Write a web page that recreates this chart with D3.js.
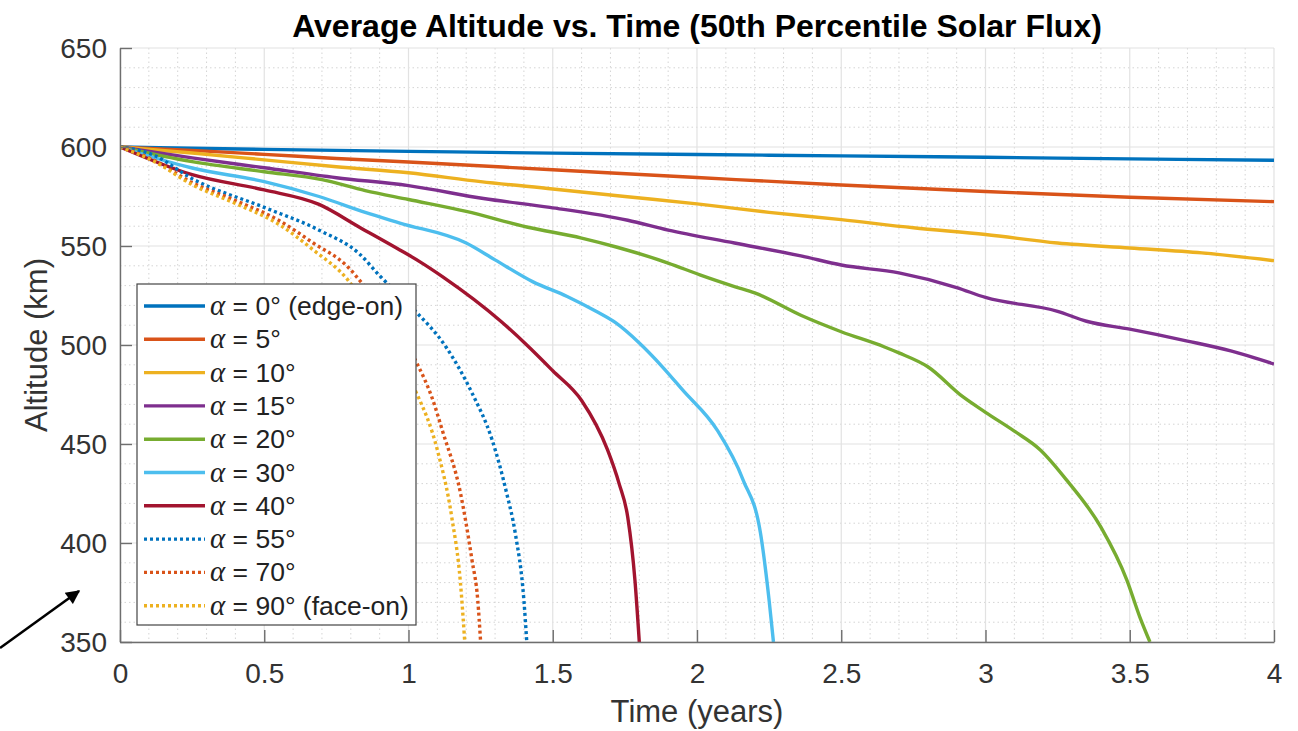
<!DOCTYPE html>
<html><head><meta charset="utf-8">
<script src="https://cdn.jsdelivr.net/npm/d3@7"></script>
<style>body{margin:0;background:#fff}svg{display:block}</style>
</head><body><svg id="c" width="1298" height="731"></svg>
<script>
// ---- data ----
const angles = [0, 5, 10, 15, 20, 30, 40, 55, 70, 90];
const labelSuffix = [" (edge-on)", "", "", "", "", "", "", "", "", " (face-on)"];
const t0  = [0,0.5,1,1.5,2,2.5,3,3.5,4];
const h0  = [600,598.8,597.8,596.9,596.2,595.5,594.8,594,593.3];
const t5  = [0,0.25,0.5,0.75,1,1.5,2,2.5,3,3.5,4];
const h5  = [600,598.3,596.3,594.2,592.4,588.5,584.6,580.8,577.5,574.6,572.4];
const t10 = [0,0.25,0.5,0.75,1,1.25,1.5,1.75,2,2.25,2.5,2.75,3,3.25,3.5,3.75,4];
const h10 = [600,597,593.5,590,587,582.5,578.8,575,571.3,567,563.3,559.2,555.8,551.5,549,546.5,542.6];
const t15 = [0,0.25,0.5,0.75,1,1.26,1.49,1.76,1.9,2.13,2.36,2.5,2.7,2.9,3.0,3.25,3.35,3.5,3.7,3.85,4];
const h15 = [600,594.5,589.5,584.5,580.5,574,569.5,563,558,551.5,545,540.4,536.4,529,524,517,512,508,502,497,490.4];
const t20 = [0,0.25,0.5,0.7,0.85,1.0,1.2,1.41,1.6,1.72,1.9,2.01,2.13,2.2,2.36,2.5,2.65,2.7,2.8,2.92,3.0,3.1,3.19,3.28,3.4,3.49,3.535,3.57];
const h20 = [600,592.6,587.5,583.5,578,573.5,567.5,559.6,554,549.5,541.4,535.4,529.5,526.3,515,506.7,499,496,489,474,466,456.5,447,432,408,381.3,362.6,350];
const t30 = [0,0.25,0.5,0.69,0.85,0.97,1.2,1.3,1.43,1.55,1.65,1.72,1.8,1.88,1.95,2.07,2.16,2.22,2.25,2.265];
const h30 = [600,589.4,582.5,575,567,561.6,551.5,543,532,524.5,517,511,501,489,477.3,457,431.8,405,371,350];
const t40 = [0,0.25,0.5,0.69,0.83,0.97,1.04,1.12,1.32,1.41,1.5,1.6,1.69,1.73,1.76,1.785,1.80];
const h40 = [600,586,578.3,571,559.5,548,542,534.3,512,500,487,472,447,430,413,381,350];
const t55 = [0,0.115,0.25,0.5,0.69,0.83,0.9,1.02,1.13,1.22,1.29,1.34,1.37,1.40,1.41];
const h55 = [600,596,584,569.5,558,546,535,517.7,499,475.8,452,425.3,405,371,350];
const t70 = [0,0.115,0.25,0.4,0.55,0.67,0.79,0.84,0.95,1.03,1.08,1.12,1.18,1.22,1.24,1.25];
const h70 = [600,593.5,582,573,563,551.5,539.4,531,510,490.5,474,455.6,425.3,391.4,371.2,350];
const t90 = [0,0.115,0.25,0.4,0.55,0.67,0.79,0.9,0.97,1.03,1.10,1.15,1.18,1.195];
const h90 = [600,593,581,571.5,561,548,532.8,508,490,475,447,413,380,350];
const xTicks = [0,0.5,1,1.5,2,2.5,3,3.5,4];
const yTicks = [350,400,450,500,550,600,650];

const seriesT = [t0,t5,t10,t15,t20,t30,t40,t55,t70,t90];
const seriesH = [h0,h5,h10,h15,h20,h30,h40,h55,h70,h90];
const colors = ["#0072BD","#D95319","#EDB120","#7E2F8E","#77AC30","#4DBEEE","#A2142F","#0072BD","#D95319","#EDB120"];
const dotted = [false,false,false,false,false,false,false,true,true,true];

// ---- layout ----
const L=120,R=1274,T=48,B=642;
const svg = d3.select("#c");
const x = d3.scaleLinear().domain([0,4]).range([L,R]);
const y = d3.scaleLinear().domain([350,650]).range([B,T]);
const sans = "'Liberation Sans', Arial, Helvetica, sans-serif";
const textCol = "#333333";

// minor grid
const g = svg.append("g");
const minorX = d3.range(0,4.0001,0.1).filter(v => Math.abs(v*2-Math.round(v*2))>1e-6);
const minorY = d3.range(350,650.1,10).filter(v => v%50!==0);
g.selectAll(".mx").data(minorX).join("line")
  .attr("x1",d=>x(d)).attr("x2",d=>x(d)).attr("y1",T).attr("y2",B)
  .attr("stroke","#d4d4d4").attr("stroke-width",1).attr("stroke-dasharray","1.5,3");
g.selectAll(".my").data(minorY).join("line")
  .attr("y1",d=>y(d)).attr("y2",d=>y(d)).attr("x1",L).attr("x2",R)
  .attr("stroke","#d4d4d4").attr("stroke-width",1).attr("stroke-dasharray","1.5,3");
// major grid
g.selectAll(".gx").data(xTicks).join("line")
  .attr("x1",d=>x(d)).attr("x2",d=>x(d)).attr("y1",T).attr("y2",B)
  .attr("stroke","#e2e2e2").attr("stroke-width",1.2);
g.selectAll(".gy").data(yTicks).join("line")
  .attr("y1",d=>y(d)).attr("y2",d=>y(d)).attr("x1",L).attr("x2",R)
  .attr("stroke","#e2e2e2").attr("stroke-width",1.2);

// curves
svg.append("clipPath").attr("id","clip").append("rect")
  .attr("x",L).attr("y",T).attr("width",R-L).attr("height",B-T);
const line = d3.line().x(d=>x(d[0])).y(d=>y(d[1])).curve(d3.curveMonotoneX);
const cg = svg.append("g").attr("clip-path","url(#clip)");
seriesT.forEach((ts,i)=>{
  const pts = ts.map((t,j)=>[t, seriesH[i][j]]);
  cg.append("path").attr("d",line(pts)).attr("fill","none")
    .attr("stroke",colors[i]).attr("stroke-width",3.4)
    .attr("stroke-dasharray", dotted[i] ? "3,3" : null)
    .attr("stroke-linejoin","round");
});

// axes
const axCol = "#6e6e6e";
const xa = svg.append("g").attr("transform",`translate(0,${B})`)
  .call(d3.axisBottom(x).tickValues(xTicks).tickSizeInner(-12).tickSizeOuter(0).tickPadding(22).tickFormat(d3.format("")));
const ya = svg.append("g").attr("transform",`translate(${L},0)`)
  .call(d3.axisLeft(y).tickValues(yTicks).tickSizeInner(-12).tickSizeOuter(0).tickPadding(13).tickFormat(d3.format("")));
[xa,ya].forEach(a=>{
  a.select(".domain").attr("stroke",axCol).attr("stroke-width",1.4);
  a.selectAll(".tick line").attr("stroke",axCol).attr("stroke-width",1.4);
  a.selectAll(".tick text").attr("fill",textCol).attr("font-family",sans).attr("font-size",28);
});
xa.selectAll(".tick text").attr("dy","0.71em").attr("y",21);
ya.selectAll(".tick text").attr("dy","0.35em");

// labels
svg.append("text").attr("x",(L+R)/2).attr("y",37).attr("text-anchor","middle")
  .attr("font-family",sans).attr("font-weight","bold").attr("font-size",32).attr("fill","#000")
  .text("Average Altitude vs. Time (50th Percentile Solar Flux)");
svg.append("text").attr("x",(L+R)/2).attr("y",722).attr("text-anchor","middle")
  .attr("font-family",sans).attr("font-size",31).attr("fill",textCol).text("Time (years)");
svg.append("text").attr("transform",`translate(47,${(T+B)/2}) rotate(-90)`).attr("text-anchor","middle")
  .attr("font-family",sans).attr("font-size",31).attr("fill",textCol).text("Altitude (km)");

// legend
const lg = svg.append("g");
const lx=137, ly=284, lw=279, lh=341, step=33.3;
lg.append("rect").attr("x",lx).attr("y",ly).attr("width",lw).attr("height",lh)
  .attr("fill","#fff").attr("stroke","#444").attr("stroke-width",1.2);
angles.forEach((a,i)=>{
  const yy = ly+22+i*step;
  lg.append("line").attr("x1",lx+7).attr("x2",lx+68).attr("y1",yy).attr("y2",yy)
    .attr("stroke",colors[i]).attr("stroke-width",3.4).attr("stroke-dasharray",dotted[i]?"3,3":null);
  const tx = lg.append("text").attr("x",lx+73).attr("y",yy+9).attr("font-family",sans)
    .attr("font-size",26.5).attr("fill","#222");
  tx.append("tspan").attr("font-family","'Liberation Serif', 'Times New Roman', serif")
    .attr("font-style","italic").attr("font-size",29).text("\u03B1");
  tx.append("tspan").text(" = " + a + "\u00B0" + labelSuffix[i]);
});

// annotation arrow
const defs = svg.append("defs");
defs.append("marker").attr("id","ah").attr("viewBox","0 0 10 10").attr("refX",9).attr("refY",5)
  .attr("markerWidth",16).attr("markerHeight",14).attr("markerUnits","userSpaceOnUse").attr("orient","auto")
  .append("path").attr("d","M0,0 L10,5 L0,10 z").attr("fill","#000");
svg.append("line").attr("x1",0).attr("y1",648).attr("x2",79).attr("y2",591)
  .attr("stroke","#000").attr("stroke-width",2.6).attr("marker-end","url(#ah)");
</script></body></html>
